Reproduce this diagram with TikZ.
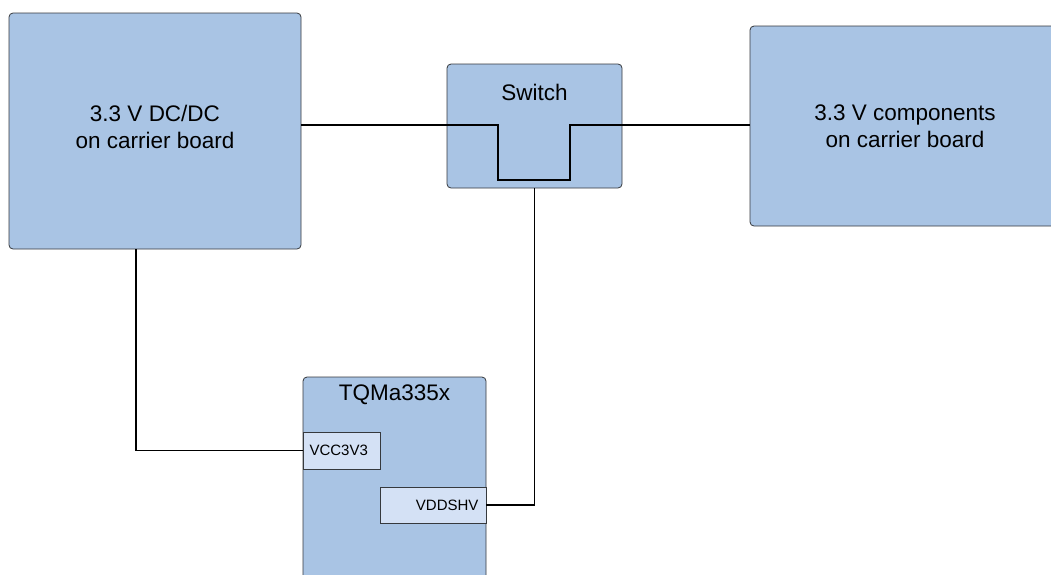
\documentclass[tikz,border=0pt]{standalone}
\usepackage{fontspec}
\setmainfont{Liberation Sans}
\definecolor{boxfill}{HTML}{A9C4E4}
\definecolor{pinfill}{HTML}{D4E1F5}
\definecolor{boxline}{HTML}{36393D}
\begin{document}
\begin{tikzpicture}[x=1pt,y=-1pt,
  block/.style={draw=boxline,line width=0.8pt,fill=boxfill,rounded corners=4pt,inner sep=0pt},
  pin/.style={draw=boxline,line width=0.8pt,fill=pinfill,inner sep=0pt},
  big/.style={font=\fontsize{22.5}{27}\selectfont,align=center},
  small/.style={font=\fontsize{15}{18}\selectfont},
  wire/.style={line width=1.5pt,black}]
\useasboundingbox (0,0) rectangle (1051,574);
\node[block,minimum width=292pt,minimum height=236pt] (dcdc) at (155,131) {};
\node[big] (dcdct) at (155,127) {3.3 V DC/DC\\on carrier board};
\node[block,minimum width=175pt,minimum height=124pt] (sw) at (534.5,126) {};
\node[big] (swt) at (534.5,92) {Switch};
\node[block,minimum width=310pt,minimum height=200pt] (comp) at (905,126) {};
\node[big] (compt) at (905,126) {3.3 V components\\on carrier board};
\node[block,minimum width=183pt,minimum height=240pt] (tqm) at (394.5,497) {};
\node[big] (tqmt) at (394.5,395) {TQMa335x};
\node[pin,minimum width=77pt,minimum height=37pt] (vcc) at (341.5,450.5) {};
\node[small,anchor=west] (vcct) at (306,450.5) {VCC3V3};
\node[pin,minimum width=106pt,minimum height=36pt] (vdd) at (433,505) {};
\node[small,anchor=east] (vddt) at (482,505) {VDDSHV};
\coordinate (a) at (dcdc.east |- 0,125);
\coordinate (b1) at (498,125);
\coordinate (b2) at (498,180);
\coordinate (b3) at (570,180);
\coordinate (b4) at (570,125);
\coordinate (c) at (comp.west |- 0,125);
\draw[wire] (a) -- (b1) -- (b2) -- (b3) -- (b4) -- (c);
\coordinate (d) at (136,249);
\draw[wire] (d) |- (vcc.west);
\draw[wire] (sw.south) |- (vdd.east);
\end{tikzpicture}
\end{document}
